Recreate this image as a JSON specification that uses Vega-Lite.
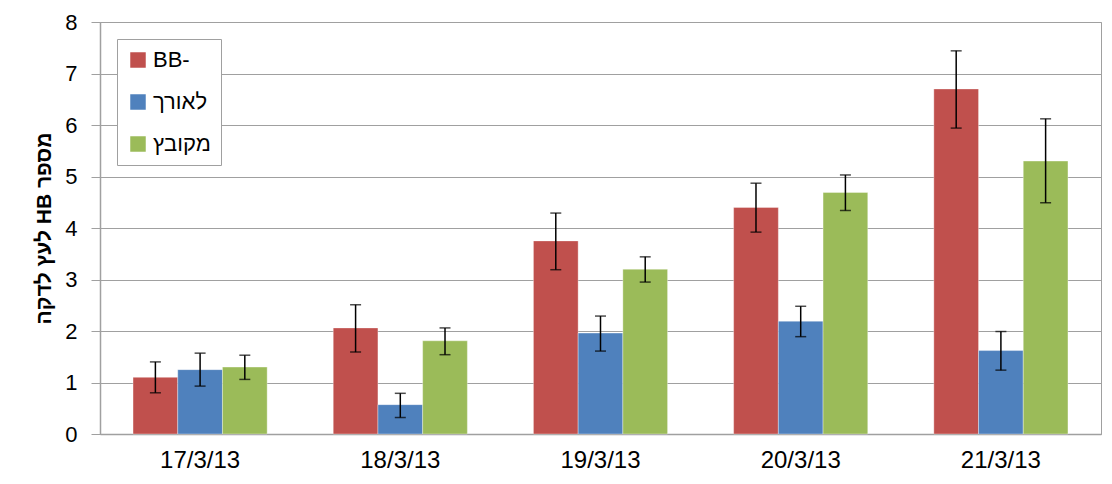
{
  "$schema": "https://vega.github.io/schema/vega-lite/v6.json",
  "width": 1001,
  "height": 412,
  "autosize": {"type": "none"},
  "padding": {"left": 100, "top": 22, "right": 11, "bottom": 50},
  "background": "white",
  "config": {
    "font": "Liberation Sans",
    "view": {"stroke": "#a0a0a0", "strokeWidth": 1}
  },
  "data": {
    "values": [
      {"date": "17/3/13", "series": "BB-", "value": 1.10, "lo": 0.80, "hi": 1.40},
      {"date": "17/3/13", "series": "לאורך", "value": 1.25, "lo": 0.93, "hi": 1.57},
      {"date": "17/3/13", "series": "מקובץ", "value": 1.30, "lo": 1.06, "hi": 1.53},
      {"date": "18/3/13", "series": "BB-", "value": 2.06, "lo": 1.59, "hi": 2.51},
      {"date": "18/3/13", "series": "לאורך", "value": 0.57, "lo": 0.32, "hi": 0.79},
      {"date": "18/3/13", "series": "מקובץ", "value": 1.81, "lo": 1.54, "hi": 2.06},
      {"date": "19/3/13", "series": "BB-", "value": 3.75, "lo": 3.19, "hi": 4.29},
      {"date": "19/3/13", "series": "לאורך", "value": 1.96, "lo": 1.61, "hi": 2.29},
      {"date": "19/3/13", "series": "מקובץ", "value": 3.20, "lo": 2.95, "hi": 3.44},
      {"date": "20/3/13", "series": "BB-", "value": 4.40, "lo": 3.92, "hi": 4.87},
      {"date": "20/3/13", "series": "לאורך", "value": 2.19, "lo": 1.89, "hi": 2.48},
      {"date": "20/3/13", "series": "מקובץ", "value": 4.69, "lo": 4.34, "hi": 5.03},
      {"date": "21/3/13", "series": "BB-", "value": 6.70, "lo": 5.94, "hi": 7.44},
      {"date": "21/3/13", "series": "לאורך", "value": 1.62, "lo": 1.24, "hi": 1.99},
      {"date": "21/3/13", "series": "מקובץ", "value": 5.30, "lo": 4.49, "hi": 6.12}
    ]
  },
  "encoding": {
    "x": {
      "field": "date",
      "type": "nominal",
      "sort": null,
      "scale": {"paddingInner": 0.33, "paddingOuter": 0.165},
      "axis": {
        "title": null,
        "labelAngle": 0,
        "labelFontSize": 24,
        "labelColor": "#000000",
        "labelPadding": 14,
        "ticks": false,
        "domainColor": "#a0a0a0",
        "domainWidth": 1.5
      }
    },
    "xOffset": {
      "field": "series",
      "type": "nominal",
      "sort": ["BB-", "לאורך", "מקובץ"],
      "scale": {"paddingInner": 0, "paddingOuter": 0}
    }
  },
  "layer": [
    {
      "mark": {"type": "bar", "stroke": "#ffffff", "strokeOpacity": 0.35, "strokeWidth": 1},
      "encoding": {
        "y": {
          "field": "value",
          "type": "quantitative",
          "scale": {"domain": [0, 8], "nice": false},
          "axis": {
            "title": "\u202bמספר HB לעץ לדקה\u202c",
            "titleFontSize": 21,
            "titleFontWeight": "bold",
            "titleColor": "#000000",
            "titleAngle": 270,
            "titleX": -56,
            "titleY": 206,
            "titleAlign": "center",
            "titleBaseline": "middle",
            "values": [0, 1, 2, 3, 4, 5, 6, 7, 8],
            "format": "d",
            "labelFontSize": 22,
            "labelColor": "#000000",
            "labelPadding": 14,
            "tickSize": 9,
            "tickColor": "#a0a0a0",
            "domainColor": "#a0a0a0",
            "domainWidth": 1.5,
            "gridColor": "#a0a0a0",
            "gridWidth": 1.2
          }
        },
        "color": {
          "field": "series",
          "type": "nominal",
          "scale": {
            "domain": ["BB-", "לאורך", "מקובץ"],
            "range": ["#C0504D", "#4F81BD", "#9BBB59"]
          },
          "legend": {
            "title": null,
            "orient": "none",
            "legendX": 17,
            "legendY": 17,
            "direction": "vertical",
            "symbolType": "square",
            "symbolSize": 240,
            "symbolStrokeWidth": 0,
            "labelFontSize": 22,
            "labelColor": "#000000",
            "labelOffset": 4,
            "rowPadding": 20,
            "padding": 10,
            "fillColor": "#ffffff",
            "strokeColor": "#a0a0a0"
          }
        }
      }
    },
    {
      "mark": {"type": "rule", "color": "#000000", "strokeWidth": 1.5},
      "encoding": {
        "y": {"field": "lo", "type": "quantitative"},
        "y2": {"field": "hi"}
      }
    },
    {
      "mark": {"type": "tick", "color": "#000000", "thickness": 1.5, "size": 11},
      "encoding": {
        "y": {"field": "lo", "type": "quantitative"}
      }
    },
    {
      "mark": {"type": "tick", "color": "#000000", "thickness": 1.5, "size": 11},
      "encoding": {
        "y": {"field": "hi", "type": "quantitative"}
      }
    }
  ]
}
